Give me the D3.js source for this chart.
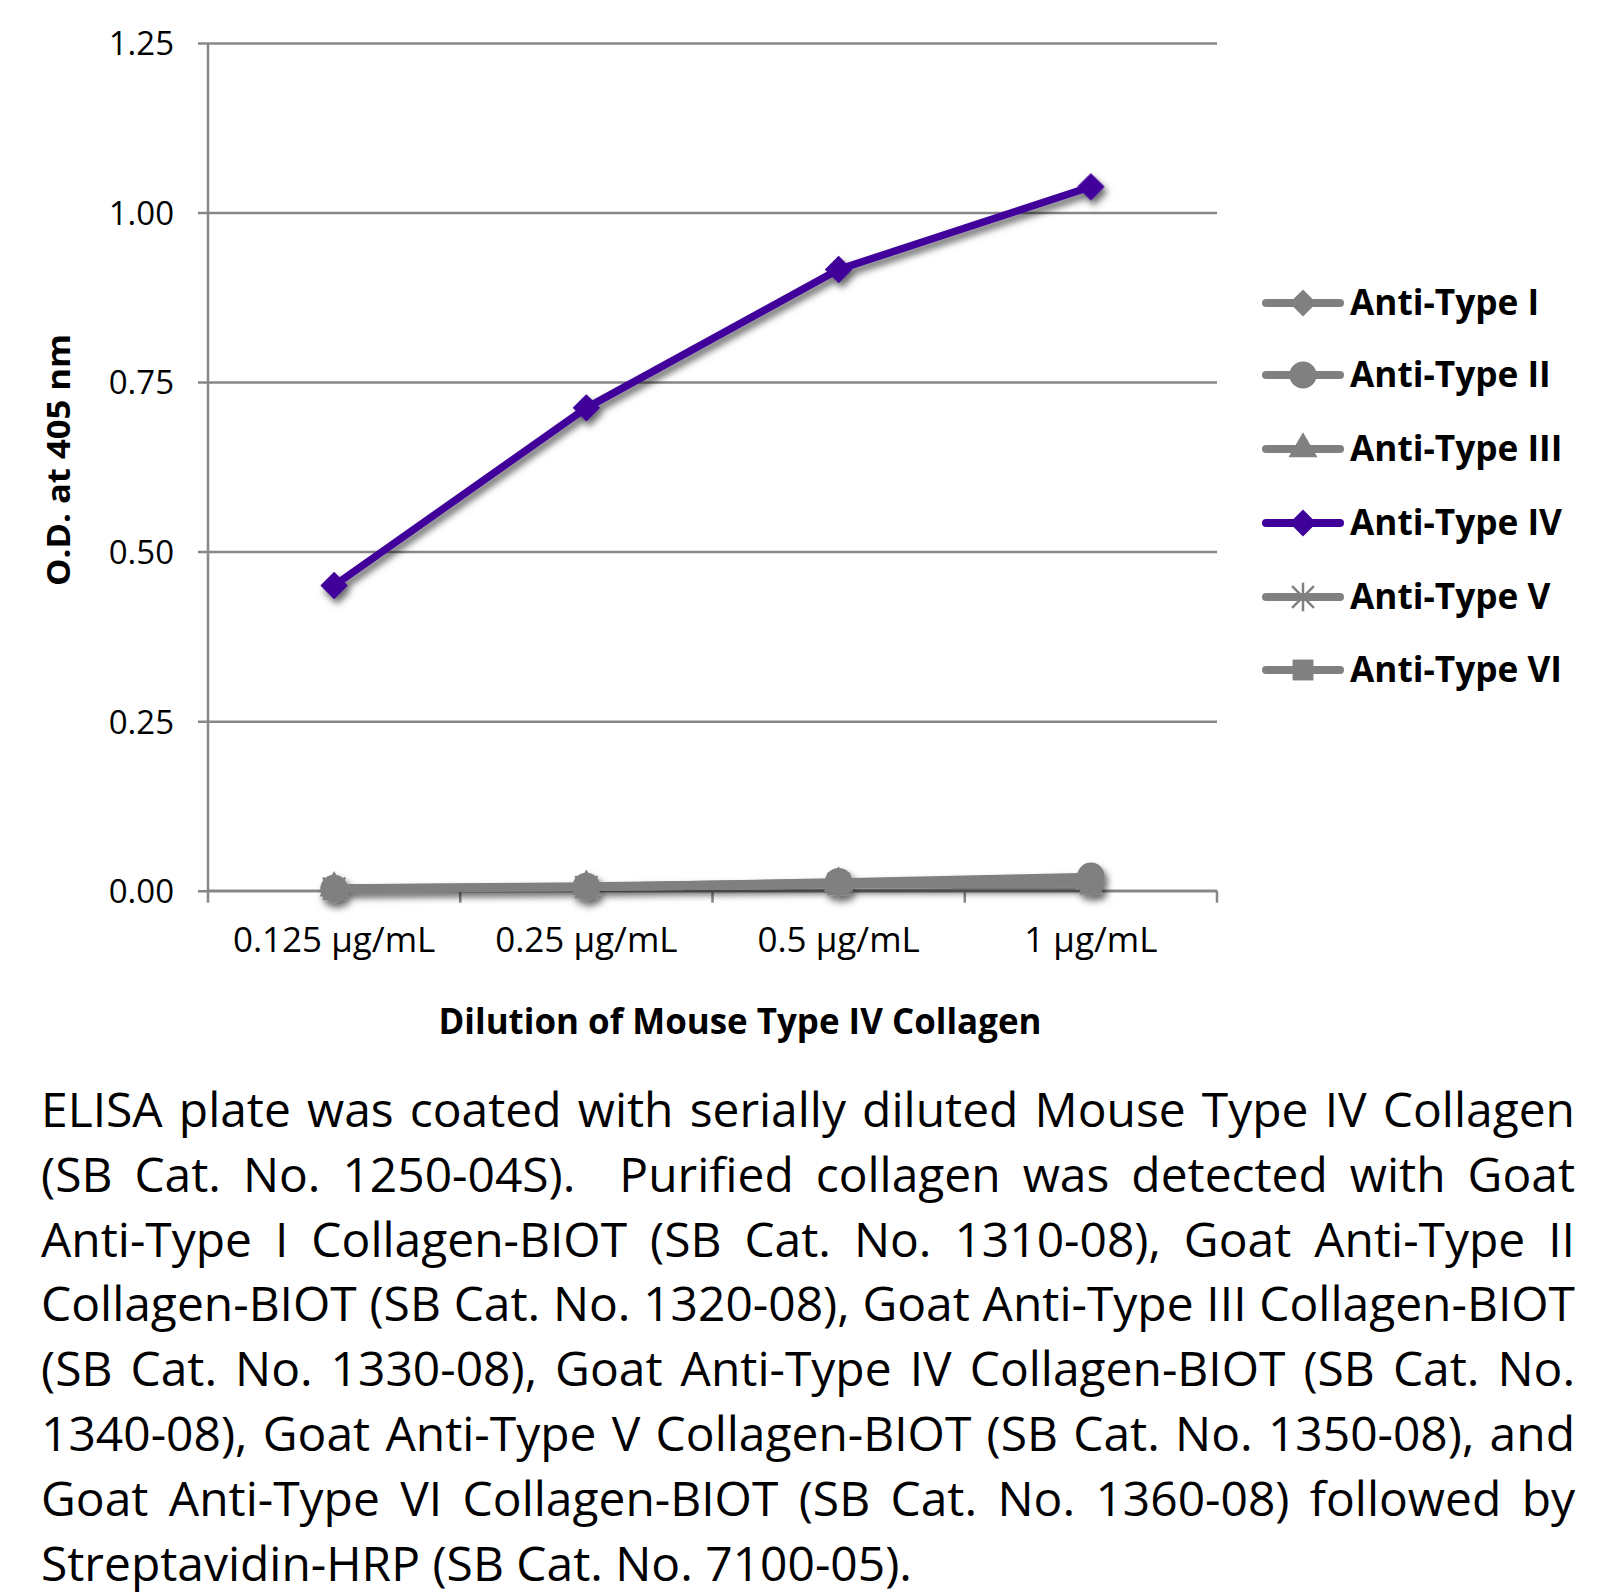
<!DOCTYPE html>
<html><head><meta charset="utf-8">
<script src="https://cdn.jsdelivr.net/npm/d3@7"></script>
<style>
html,body{margin:0;padding:0;background:#fff;}
svg{display:block;}
</style></head>
<body>
<script>
const categories = ["0.125 µg/mL", "0.25 µg/mL", "0.5 µg/mL", "1 µg/mL"];
const seriesNames = ["Anti-Type I", "Anti-Type II", "Anti-Type III", "Anti-Type IV", "Anti-Type V", "Anti-Type VI"];
const typeI   = [0.004, 0.007, 0.012, 0.016];
const typeII  = [0.003, 0.006, 0.013, 0.021];
const typeIII = [0.004, 0.006, 0.011, 0.014];
const typeIV  = [0.450, 0.712, 0.916, 1.038];
const typeV   = [0.003, 0.005, 0.010, 0.012];
const typeVI  = [0.002, 0.005, 0.009, 0.010];
const yTicks = [0, 0.25, 0.5, 0.75, 1.0, 1.25];
const xTitle = "Dilution of Mouse Type IV Collagen";
const yTitle = "O.D. at 405 nm";
const captionLines = [
  "ELISA plate was coated with serially diluted Mouse Type IV Collagen",
  "(SB Cat. No. 1250-04S).  Purified collagen was detected with Goat",
  "Anti-Type I Collagen-BIOT (SB Cat. No. 1310-08), Goat Anti-Type II",
  "Collagen-BIOT (SB Cat. No. 1320-08), Goat Anti-Type III Collagen-BIOT",
  "(SB Cat. No. 1330-08), Goat Anti-Type IV Collagen-BIOT (SB Cat. No.",
  "1340-08), Goat Anti-Type V Collagen-BIOT (SB Cat. No. 1350-08), and",
  "Goat Anti-Type VI Collagen-BIOT (SB Cat. No. 1360-08) followed by",
  "Streptavidin-HRP (SB Cat. No. 7100-05)."
];

const seriesValues = [typeI, typeII, typeIII, typeIV, typeV, typeVI];
const markerTypes = ["diamond", "circle", "triangle", "diamond", "asterisk", "square"];
const grey = "#808080", purple = "#3f0099";
const colors = [grey, grey, grey, purple, grey, grey];

const W = 1611, H = 1596;
const svg = d3.select("body").append("svg").attr("width", W).attr("height", H)
  .style("font-family", "'Open Sans', sans-serif");
svg.append("rect").attr("width", W).attr("height", H).attr("fill", "#fff");

const defs = svg.append("defs");
const f = defs.append("filter").attr("id", "shadow").attr("x", "-20%").attr("y", "-20%").attr("width", "140%").attr("height", "140%");
f.append("feDropShadow").attr("dx", 3).attr("dy", 5).attr("stdDeviation", 3.5)
  .attr("flood-color", "#000").attr("flood-opacity", 0.6);

const plot = {left: 208, right: 1217, top: 43, bottom: 890.7};
const x = d3.scaleBand().domain(categories).range([plot.left, plot.right]).padding(0);
const y = d3.scaleLinear().domain([0, 1.25]).range([plot.bottom, plot.top]);
const gridColor = "#878787";

// gridlines
const yAxis = d3.axisLeft(y).tickValues(yTicks).tickFormat(d3.format(".2f"))
  .tickSize(-(plot.right - plot.left)).tickSizeOuter(0).tickPadding(26);
const gy = svg.append("g").attr("transform", `translate(${plot.left},0)`).call(yAxis);
gy.select(".domain").remove();
gy.selectAll(".tick line").attr("stroke", gridColor).attr("stroke-width", 2.5).attr("x1", -10);
gy.selectAll(".tick text").attr("font-size", 33).attr("fill", "#000")
  .attr("font-family", "'Open Sans', sans-serif").attr("x", -34).attr("dy", "0.36em");

// y axis line
svg.append("line").attr("x1", plot.left).attr("x2", plot.left)
  .attr("y1", plot.top).attr("y2", plot.bottom).attr("stroke", gridColor).attr("stroke-width", 2.5);

// x axis
const xEdges = categories.map(c => x(c)).concat([plot.right]);
svg.append("g").selectAll("line").data(xEdges).join("line")
  .attr("x1", d => d).attr("x2", d => d).attr("y1", plot.bottom).attr("y2", plot.bottom + 12)
  .attr("stroke", gridColor).attr("stroke-width", 2.5);
svg.append("line").attr("x1", plot.left).attr("x2", plot.right).attr("y1", plot.bottom).attr("y2", plot.bottom)
  .attr("stroke", gridColor).attr("stroke-width", 2.5);
svg.append("g").selectAll("text").data(categories).join("text")
  .attr("x", d => x(d) + x.bandwidth() / 2).attr("y", 952).attr("text-anchor", "middle")
  .attr("font-size", 35).attr("fill", "#000").text(d => d);

// axis titles
svg.append("text").attr("x", 740).attr("y", 1034).attr("text-anchor", "middle")
  .attr("font-size", 35).attr("font-weight", "bold").attr("fill", "#000")
  .attr("textLength", 603).attr("lengthAdjust", "spacingAndGlyphs").text(xTitle);
svg.append("text").attr("transform", "translate(70,460) rotate(-90)").attr("text-anchor", "middle")
  .attr("font-size", 33).attr("font-weight", "bold").attr("fill", "#000")
  .attr("textLength", 252).attr("lengthAdjust", "spacingAndGlyphs").text(yTitle);

// marker generator
function marker(sel, type, color, scale) {
  const s = scale || 1;
  if (type === "diamond") {
    sel.append("path").attr("d", d3.symbol(d3.symbolSquare, 300 * s * s)()).attr("transform", "rotate(45)")
      .attr("fill", color);
  } else if (type === "circle") {
    sel.append("path").attr("d", d3.symbol(d3.symbolCircle, 480 * s * s)()).attr("fill", color);
  } else if (type === "triangle") {
    sel.append("path").attr("d", d3.symbol(d3.symbolTriangle, 300 * s * s)()).attr("fill", color);
  } else if (type === "square") {
    sel.append("path").attr("d", d3.symbol(d3.symbolSquare, 360 * s * s)()).attr("fill", color);
  } else if (type === "asterisk") {
    const r = 13 * s;
    sel.append("path").attr("d", d3.symbol(d3.symbolTimes, 260 * s * s)()).attr("stroke", color).attr("stroke-width", 2.5).attr("fill", "none");
    sel.append("line").attr("x1", 0).attr("x2", 0).attr("y1", -r).attr("y2", r).attr("stroke", color).attr("stroke-width", 2.5);
  }
}

// series
const line = d3.line().x((d, i) => x(categories[i]) + x.bandwidth() / 2).y(d => y(d));
const seriesG = svg.append("g").attr("filter", "url(#shadow)");
seriesValues.forEach((vals, si) => {
  const g = seriesG.append("g");
  g.append("path").datum(vals).attr("d", line).attr("fill", "none")
    .attr("stroke", colors[si]).attr("stroke-width", 7.5).attr("stroke-linejoin", "round");
  vals.forEach((v, i) => {
    const mg = g.append("g").attr("transform", `translate(${x(categories[i]) + x.bandwidth() / 2},${y(v)})`);
    marker(mg, markerTypes[si], colors[si], 1.12);
  });
});

// legend
const legY = [303, 375, 449, 523, 597, 670];
const leg = svg.append("g");
seriesNames.forEach((name, i) => {
  const g = leg.append("g").attr("transform", `translate(0,${legY[i]})`);
  g.append("line").attr("x1", 1266).attr("x2", 1340).attr("y1", 0).attr("y2", 0)
    .attr("stroke", colors[i]).attr("stroke-width", 8).attr("stroke-linecap", "round");
  const mg = g.append("g").attr("transform", "translate(1303,0)");
  marker(mg, markerTypes[i], colors[i], 1.1);
  g.append("text").attr("x", 1350).attr("y", 12).attr("font-size", 36).attr("font-weight", "bold")
    .attr("fill", "#000").text(name);
});
// scale legend labels so "Anti-Type IV" spans ~212px
const legTexts = leg.selectAll("text").nodes();
const refW = legTexts[3].getComputedTextLength();
const legRatio = 212 / refW;
legTexts.forEach(n => {
  d3.select(n).attr("textLength", n.getComputedTextLength() * legRatio).attr("lengthAdjust", "spacingAndGlyphs");
});

// caption (justified)
const capLeft = 41, capRight = 1575, capTop = 1127, capStep = 64.8;
const capG = svg.append("g");
let fs = 46;
const probe = capG.append("text").attr("font-size", fs).text(captionLines[captionLines.length - 1]);
const lastW = probe.node().getComputedTextLength();
probe.remove();
fs = fs * 871 / lastW;
captionLines.forEach((ln, i) => {
  const t = capG.append("text").attr("x", capLeft).attr("y", capTop + i * capStep)
    .attr("font-size", fs).attr("fill", "#000").attr("xml:space", "preserve").text(ln);
  if (i < captionLines.length - 1) {
    const w = t.node().getComputedTextLength();
    const target = capRight - capLeft;
    const gaps = (ln.match(/ /g) || []).length;
    if (w < target && gaps > 0) {
      t.attr("word-spacing", (target - w) / gaps);
    } else {
      t.attr("textLength", target).attr("lengthAdjust", "spacingAndGlyphs");
    }
  }
});
</script>
</body></html>
